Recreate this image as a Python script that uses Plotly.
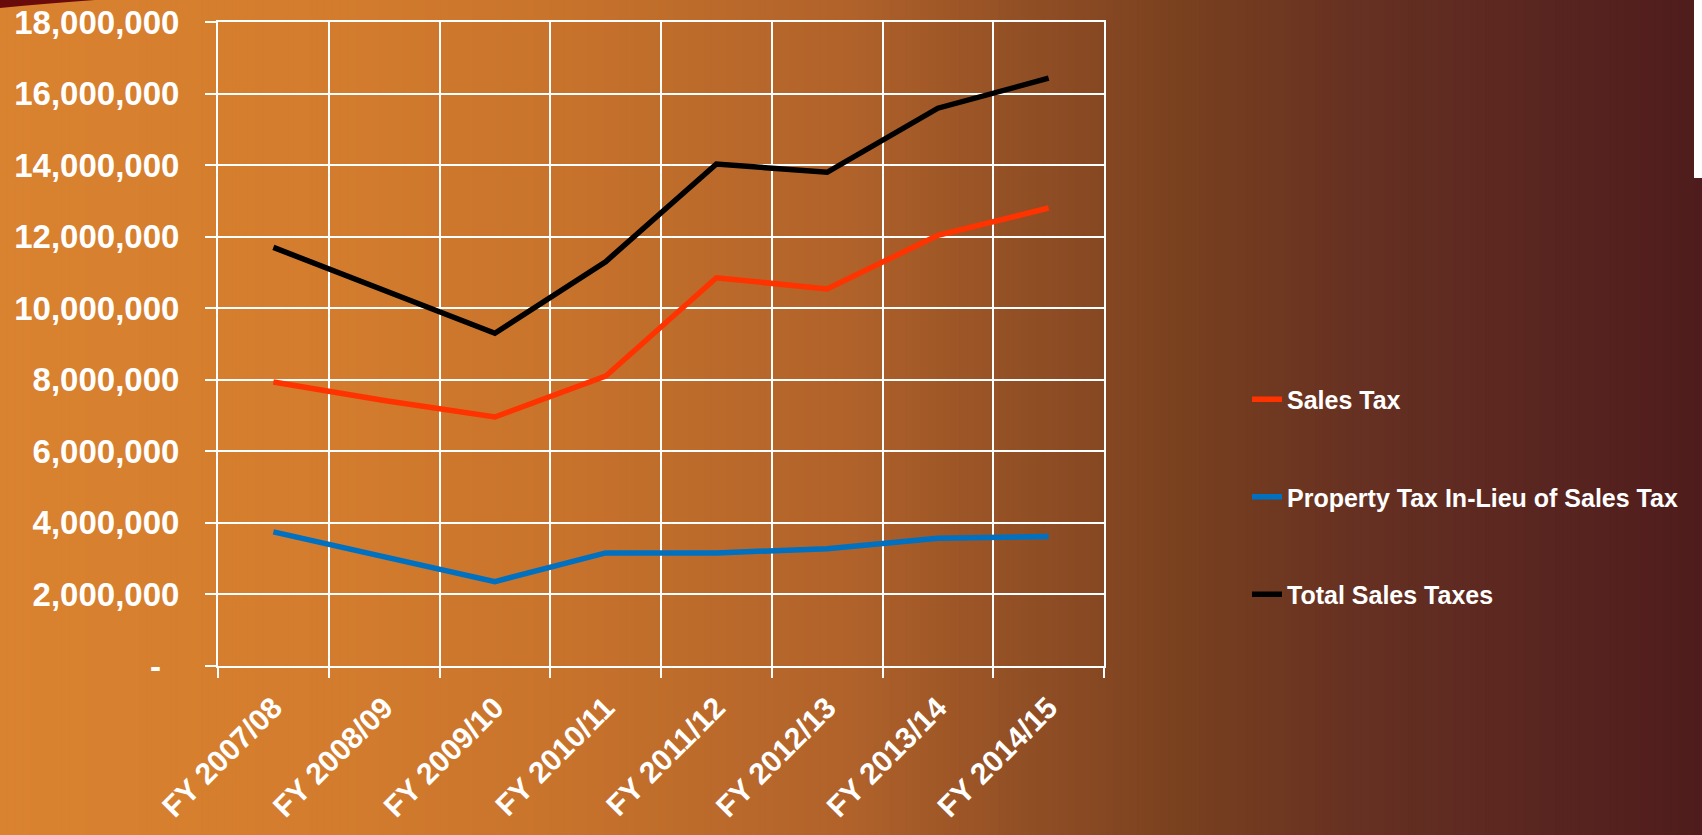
import plotly.graph_objects as go

# ---- data ----
categories = ["FY 2007/08", "FY 2008/09", "FY 2009/10", "FY 2010/11",
              "FY 2011/12", "FY 2012/13", "FY 2013/14", "FY 2014/15"]
sales_tax = [7940000, 7420000, 6960000, 8100000, 10850000, 10540000, 12040000, 12800000]
property_tax_in_lieu = [3750000, 3070000, 2360000, 3160000, 3160000, 3280000, 3570000, 3620000]
total_sales_taxes = [11700000, 10500000, 9300000, 11300000, 14030000, 13800000, 15590000, 16430000]
y_tick_values = [0, 2000000, 4000000, 6000000, 8000000, 10000000, 12000000, 14000000, 16000000, 18000000]
y_tick_labels = ["-\u00a0\u00a0", "2,000,000", "4,000,000", "6,000,000", "8,000,000", "10,000,000",
                 "12,000,000", "14,000,000", "16,000,000", "18,000,000"]

W, H = 1702, 835
FONT = "Liberation Sans"

fig = go.Figure()
series = [
    ("Sales Tax", sales_tax, "#FF3300"),
    ("Property Tax In-Lieu of Sales Tax", property_tax_in_lieu, "#0070C0"),
    ("Total Sales Taxes", total_sales_taxes, "#000000"),
]
for i, (name, vals, col) in enumerate(series):
    fig.add_trace(go.Scatter(x=categories, y=vals, name=name, mode="lines",
                             line=dict(color=col, width=5.5), legendgroup=f"g{i}"))

# background gradient strips
stops = [(0.0, (217, 130, 47)), (0.2, (211, 124, 46)), (0.33, (200, 115, 44)),
         (0.5, (176, 98, 42)), (0.6, (146, 79, 37)), (0.7, (120, 64, 31)),
         (0.8, (102, 48, 34)), (0.9, (90, 38, 32)), (1.0, (79, 28, 29))]

def color_at(t):
    for (p0, c0), (p1, c1) in zip(stops[:-1], stops[1:]):
        if p0 <= t <= p1:
            f = (t - p0) / (p1 - p0)
            return "rgb(%d,%d,%d)" % tuple(round(a + (b - a) * f) for a, b in zip(c0, c1))
    return "rgb(%d,%d,%d)" % stops[-1][1]

shapes = []
N = 220
for i in range(N):
    t = (i + 0.5) / N
    shapes.append(dict(type="rect", xref="paper", yref="paper", x0=i / N, x1=(i + 1) / N + 0.002,
                       y0=-0.01, y1=1.01, fillcolor=color_at(t), line=dict(width=0), layer="below"))
# top-left dark wedge
shapes.append(dict(type="path", xref="paper", yref="paper",
                   path="M 0,1 L %f,1 Q %f,%f 0,%f Z" % (95 / W, 40 / W, 1 - 4 / H, 1 - 8 / H),
                   fillcolor="#6A0B0B", line=dict(width=0), layer="below"))
# white strip at right edge
shapes.append(dict(type="rect", xref="paper", yref="paper", x0=1694 / W, x1=1.01,
                   y0=1 - 178 / H, y1=1.01, fillcolor="#FFFFFF", line=dict(width=0), layer="below"))

fig.update_layout(
    width=W, height=H,
    margin=dict(l=0, r=0, t=0, b=0, pad=0, autoexpand=False),
    paper_bgcolor="#D9822F",
    plot_bgcolor="rgba(0,0,0,0)",
    shapes=shapes,
    showlegend=True,
    legend=dict(x=1247 / W, y=1 - 497 / H, xanchor="left", yanchor="middle",
                bgcolor="rgba(0,0,0,0)", tracegroupgap=62, traceorder="grouped",
                font=dict(family=FONT, size=25, color="white", weight=700)),
    xaxis=dict(domain=[218 / W, 1104 / W], type="category", range=[-0.5, 7.5],
               automargin=False,
               tickson="boundaries", showgrid=True, gridcolor="white", gridwidth=2,
               ticks="outside", ticklen=10, tickwidth=2, tickcolor="white",
               showline=True, linecolor="white", linewidth=2, mirror=True,
               tickangle=-45, ticklabelstandoff=10,
               tickfont=dict(family=FONT, size=30, color="white", weight=700)),
    yaxis=dict(domain=[1 - 666 / H, 1 - 22 / H], range=[0, 18000000],
               automargin=False,
               tickvals=y_tick_values, ticktext=y_tick_labels,
               showgrid=True, gridcolor="white", gridwidth=2,
               zeroline=True, zerolinecolor="white", zerolinewidth=2,
               ticks="outside", ticklen=11, tickwidth=2, tickcolor="white",
               showline=True, linecolor="white", linewidth=2, mirror=True,
               ticklabelstandoff=19,
               tickfont=dict(family=FONT, size=33, color="white", weight=700)),
)

fig.write_html("out.html")
